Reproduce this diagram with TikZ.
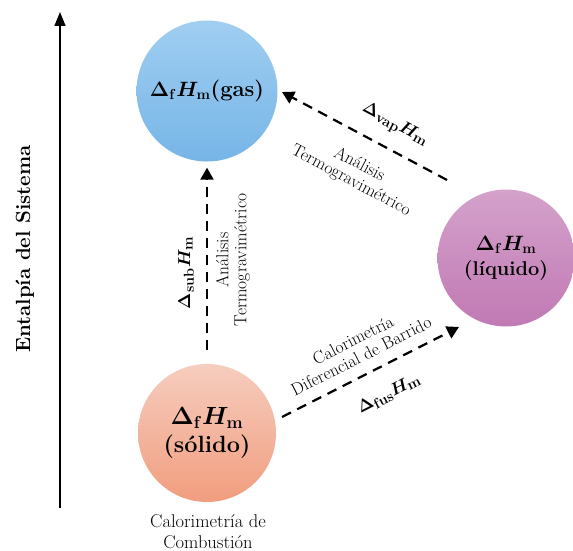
\documentclass[tikz,border=0pt]{standalone}
\usepackage{amsmath,bm}
\usetikzlibrary{arrows.meta,calc}
\begin{document}
\begin{tikzpicture}[x=1pt,y=-1pt,
  state/.style={circle,minimum size=141pt,inner sep=0pt,align=center,font=\bfseries\boldmath},
  dasharrow/.style={line width=2.2pt,dash pattern=on 10pt off 7pt,-{Triangle[length=12pt,width=13pt]}},
  lbl/.style={font=\fontsize{17.5}{18}\selectfont,align=center,inner sep=1pt},
  mlbl/.style={font=\fontsize{19}{20}\selectfont\bfseries\boldmath,inner sep=1pt}]
\useasboundingbox (0,0) rectangle (573,551);
\node[state,top color={rgb,255:red,160;green,206;blue,241},bottom color={rgb,255:red,118;green,181;blue,231},
  font=\fontsize{22}{26}\selectfont\bfseries\boldmath] (gas) at (207,91)
  {$\Delta_{\mathbf f}\bm{H}_{\mathbf m}$(gas)};
\node[state,minimum size=137pt,top color={rgb,255:red,212;green,162;blue,203},bottom color={rgb,255:red,193;green,121;blue,180},
  font=\fontsize{20}{25}\selectfont\bfseries\boldmath] (liq) at (506,258)
  {$\Delta_{\mathbf f}\bm{H}_{\mathbf m}$\\(líquido)};
\node[state,minimum size=138pt,top color={rgb,255:red,246;green,205;blue,191},bottom color={rgb,255:red,241;green,157;blue,126},
  font=\fontsize{23.5}{28}\selectfont\bfseries\boldmath] (sol) at (207,433)
  {$\Delta_{\mathbf f}\bm{H}_{\mathbf m}$\\(sólido)};
% axis
\coordinate (ax0) at (60,508);
\coordinate (ax1) at (60,12);
\draw[line width=1.6pt,-{Triangle[length=14pt,width=11pt]}] (ax0) -- (ax1);
\node[rotate=90,font=\fontsize{20.5}{22}\selectfont\bfseries] (axl) at (25,249) {Entalpía del Sistema};
% sublimation
\draw[dasharrow,shorten <=14pt,shorten >=6pt] (sol) -- (gas);
\node[mlbl,rotate=90] (sub) at (186,273) {$\Delta_{\mathbf{sub}}\bm{H}_{\mathbf m}$};
\node[lbl,rotate=90] (tga1) at (233,260) {Análisis\\Termogravimétrico};
% vaporization
\coordinate (vapS) at (447,180);
\coordinate (vapE) at (282,92);
\draw[dasharrow] (vapS) -- (vapE);
\node[mlbl,rotate=-28] (vap) at (395,125) {$\Delta_{\mathbf{vap}}\bm{H}_{\mathbf m}$};
\node[lbl,rotate=-28] (tga2) at (355,173) {Análisis\\Termogravimétrico};
% fusion
\coordinate (fusS) at (282,417);
\coordinate (fusE) at (459,327);
\draw[dasharrow] (fusS) -- (fusE);
\node[lbl,rotate=27] (dsc) at (357,348) {Calorimetría\\Diferencial de Barrido};
\node[mlbl,rotate=27] (fus) at (389,394) {$\Delta_{\mathbf{fus}}\bm{H}_{\mathbf m}$};
% combustion
\node[lbl,font=\fontsize{18.5}{21}\selectfont] (comb) at (208,532) {Calorimetría de\\Combustión};
\end{tikzpicture}
\end{document}
